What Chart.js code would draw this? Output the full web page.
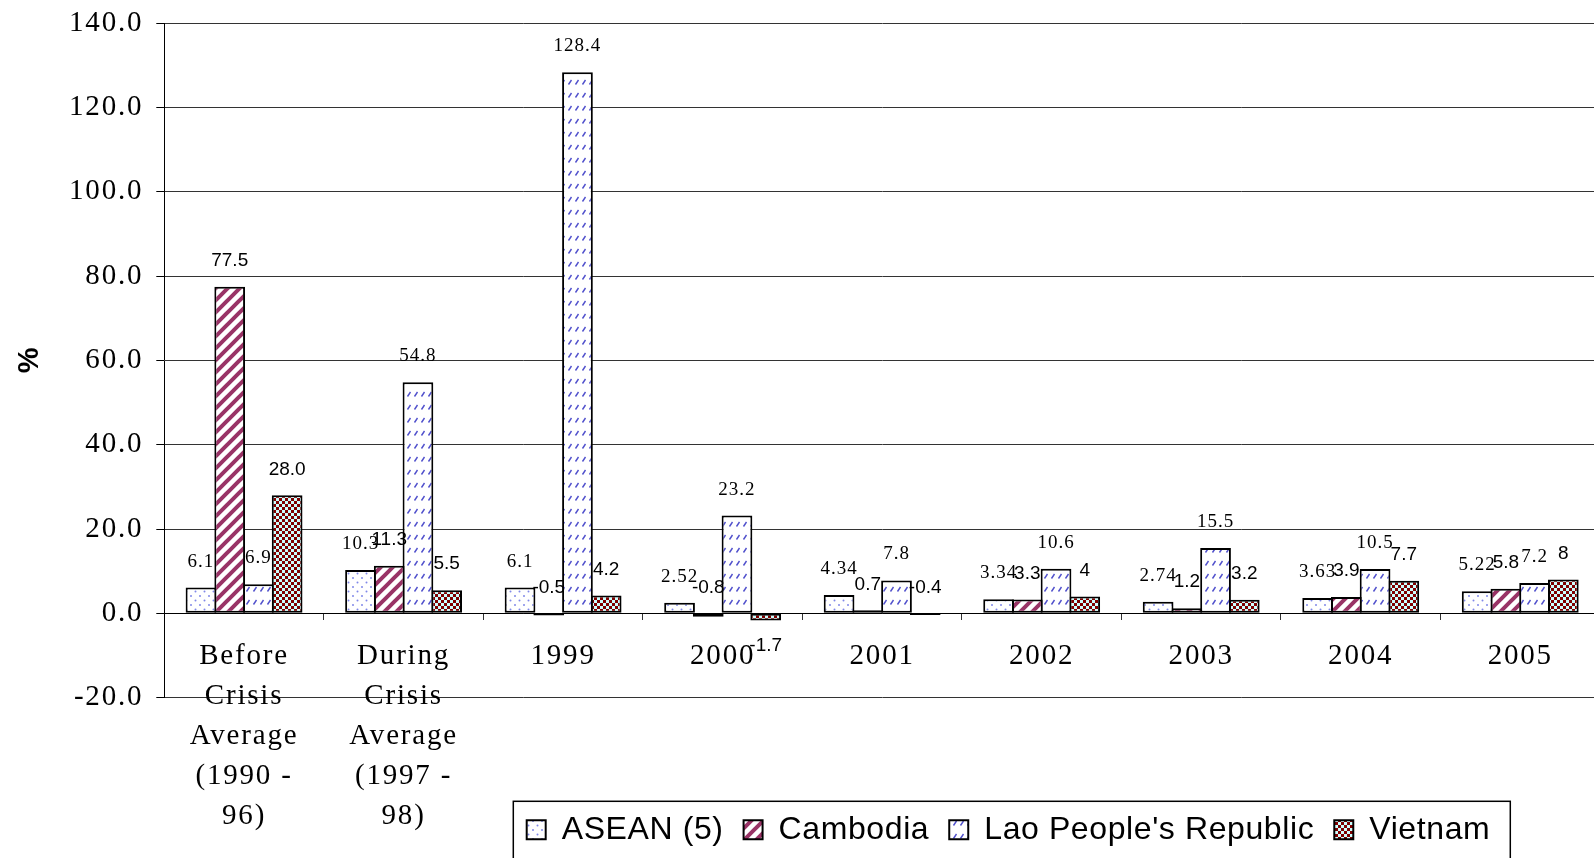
<!DOCTYPE html>
<html><head><meta charset="utf-8">
<script src="https://cdn.jsdelivr.net/npm/chart.js@4"></script>
<style>html,body{margin:0;padding:0;overflow:hidden;background:#fff}canvas{display:block}</style>
</head><body>
<canvas id="c" width="1600" height="858"></canvas>
<script>
const categories = [["Before","Crisis","Average","(1990 -","96)"],["During","Crisis","Average","(1997 -","98)"],"1999","2000","2001","2002","2003","2004","2005"];
const seriesNames = ["ASEAN (5)","Cambodia","Lao People's Republic","Vietnam"];
const asean    = [6.1, 10.3, 6.1, 2.52, 4.34, 3.34, 2.74, 3.63, 5.22];
const cambodia = [77.5, 11.3, -0.5, -0.8, 0.7, 3.3, 1.2, 3.9, 5.8];
const lao      = [6.9, 54.8, 128.4, 23.2, 7.8, 10.6, 15.5, 10.5, 7.2];
const vietnam  = [28.0, 5.5, 4.2, -1.7, -0.4, 4, 3.2, 7.7, 8];
const yMin = -20, yMax = 140, yStep = 20;

const canvas = document.getElementById('c');
const mainCtx = canvas.getContext('2d');
function makePattern(w, h, draw) {
  const t = document.createElement('canvas'); t.width = w; t.height = h;
  const g = t.getContext('2d'); draw(g, w, h);
  return mainCtx.createPattern(t, 'repeat');
}
const patAsean = makePattern(9, 9, (g) => {
  g.fillStyle = '#fff'; g.fillRect(0, 0, 9, 9);
  g.fillStyle = '#8088e8';
  g.beginPath(); g.arc(2, 2, 1, 0, Math.PI * 2); g.fill();
  g.beginPath(); g.arc(6.5, 6.5, 1, 0, Math.PI * 2); g.fill();
});
const patCambodia = makePattern(12, 12, (g) => {
  g.fillStyle = '#fff'; g.fillRect(0, 0, 12, 12);
  g.strokeStyle = '#993366'; g.lineWidth = 4;
  g.beginPath();
  g.moveTo(-1, 13); g.lineTo(13, -1);
  g.moveTo(-3, 3); g.lineTo(3, -3);
  g.moveTo(9, 15); g.lineTo(15, 9);
  g.stroke();
});
const patLao = makePattern(7, 13, (g) => {
  g.fillStyle = '#fff'; g.fillRect(0, 0, 7, 13);
  g.strokeStyle = '#5050cc'; g.lineWidth = 1.4;
  g.beginPath(); g.moveTo(1.5, 6.5); g.lineTo(4.5, 2); g.stroke();
});
const patVietnam = makePattern(6, 6, (g) => {
  g.fillStyle = '#800000'; g.fillRect(0, 0, 6, 6);
  g.fillStyle = '#ccffff'; g.fillRect(0, 0, 3, 3); g.fillRect(3, 3, 3, 3);
});

const labelFonts = ['19px "Liberation Serif"', '19px "Liberation Sans"', '19px "Liberation Serif"', '19px "Liberation Sans"'];
const labelSpacing = ['1px', '0px', '1px', '0px'];
function fmt(v) { return (Number.isInteger(v) && Math.abs(v) >= 20) ? v.toFixed(1) : String(v); }

const dataLabels = {
  id: 'dataLabels',
  afterDatasetsDraw(chart) {
    const ctx = chart.ctx; const zero = chart.scales.y.getPixelForValue(0);
    chart.data.datasets.forEach((ds, di) => {
      const meta = chart.getDatasetMeta(di);
      meta.data.forEach((bar, i) => {
        const v = ds.data[i];
        const ty = v >= -1 ? Math.min(bar.y, zero) - 26 : bar.y + 25;
        ctx.save();
        ctx.font = labelFonts[di]; ctx.fillStyle = '#000'; ctx.letterSpacing = labelSpacing[di];
        ctx.textAlign = 'center'; ctx.textBaseline = 'middle';
        ctx.fillText(fmt(v), bar.x, ty);
        ctx.restore();
      });
    });
  }
};
function wrapSpacing(obj, method, sp) {
  const orig = obj[method];
  obj[method] = function (...a) {
    const c = this.ctx; c.save(); c.letterSpacing = sp; const r = orig.apply(this, a); c.restore(); return r;
  };
}
const spacing = {
  id: 'spacing',
  beforeLayout(chart) {
    const lg = chart.legend;
    if (lg && !lg._spWrapped) { wrapSpacing(lg, 'fit', '0.6px'); wrapSpacing(lg, 'draw', '0.6px'); lg._spWrapped = true; }
  },
  beforeDraw(chart) {
    Object.values(chart.scales).forEach(s => {
      if (s._spWrapped) return;
      wrapSpacing(s, 'drawLabels', '1.8px');
      s._spWrapped = true;
    });
  }
};
const legendPlace = {
  id: 'legendPlace',
  afterLayout(chart) {
    const lg = chart.legend;
    lg.left = 506.7; lg.top = 793.7; lg.right = lg.left + 1080; lg.bottom = 858;
    lg.width = lg.right - lg.left; lg.height = lg.bottom - lg.top;
  },
  afterDraw(chart) {
    const lg = chart.legend; const ctx = chart.ctx;
    const l = lg.left + 6.6, t = lg.top + 7.6, r = lg.left + lg.lineWidths[0] + 20;
    ctx.save(); ctx.strokeStyle = '#000'; ctx.lineWidth = 1.5;
    ctx.strokeRect(l, t, r - l, 900 - t); ctx.restore();
  }
};

const common = { borderColor: '#000', borderWidth: 2, borderSkipped: false, barPercentage: 1.07, categoryPercentage: 0.72 };
new Chart(mainCtx, {
  type: 'bar',
  data: {
    labels: categories,
    datasets: [
      Object.assign({ label: seriesNames[0], data: asean, backgroundColor: patAsean }, common),
      Object.assign({ label: seriesNames[1], data: cambodia, backgroundColor: patCambodia }, common),
      Object.assign({ label: seriesNames[2], data: lao, backgroundColor: patLao }, common),
      Object.assign({ label: seriesNames[3], data: vietnam, backgroundColor: patVietnam }, common)
    ]
  },
  options: {
    responsive: false, animation: false, devicePixelRatio: 1,
    layout: { padding: { left: 0, top: 23.3, right: 0, bottom: 98.4 } },
    plugins: {
      tooltip: { enabled: false },
      legend: {
        position: 'bottom', align: 'start',
        labels: { boxWidth: 19, boxHeight: 19, padding: 20, color: '#000', font: { family: 'Liberation Sans', size: 32 } }
      }
    },
    scales: {
      x: {
        position: { y: 0 },
        ticks: { color: '#000', padding: 17, autoSkip: false, maxRotation: 0, minRotation: 0,
                 font: { family: 'Liberation Serif', size: 29, lineHeight: 40 / 29 } },
        grid: { drawOnChartArea: false, tickLength: 6, color: '#333', offset: true },
        border: { color: '#000', width: 1 }
      },
      y: {
        min: yMin, max: yMax,
        ticks: { stepSize: yStep, color: '#000', padding: 13, callback: v => Number(v).toFixed(1),
                 font: { family: 'Liberation Serif', size: 29 } },
        grid: { color: '#333', lineWidth: 1, tickLength: 8, tickColor: '#000' },
        border: { color: '#000', width: 1 },
        title: { display: true, text: '%', color: '#000', padding: { top: 13, bottom: 0 },
                 font: { family: 'Liberation Sans', size: 29, weight: 'bold' } },
        afterFit(s) { s.width = 164.3; s.paddingTop = 0; s.paddingBottom = 0; }
      }
    }
  },
  plugins: [dataLabels, spacing, legendPlace]
});
</script>
</body></html>
